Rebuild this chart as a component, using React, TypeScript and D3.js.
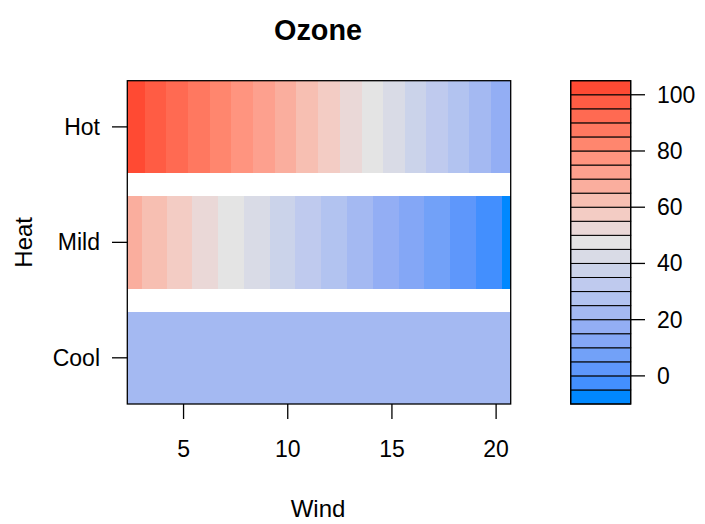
import React from "react";
import * as d3 from "d3";

// Heat categories (bottom to top) and fitted Ozone along Wind for each
const heatLevels = ["Cool", "Mild", "Hot"];
const windGrid = [2.3, 5, 10, 15, 20, 20.7];
const ozoneCool = [22, 22, 22, 22, 22, 22];
const ozoneMild = [68, 56.7, 36.5, 16.3, -3.9, -6.8];
const ozoneHot = [104, 91, 67, 43, 18.7, 15.3];

// contour levels and their fill colours (low to high)
const levels = [-10, -5, 0, 5, 10, 15, 20, 25, 30, 35, 40, 45, 50, 55, 60, 65, 70, 75, 80, 85, 90, 95, 100, 105];
const bandColors = [
  "#0088FF", "#438FFE", "#5E97FB", "#72A1F8", "#84A7F6", "#93AEF4",
  "#A4B9F2", "#B2C3F0", "#BFCAEE", "#CBD3EA", "#D9DBE6", "#E4E4E4",
  "#EAD8D7", "#F3CCC4", "#F7BFB2", "#FAAE9E", "#FDA08E", "#FF947F",
  "#FF866E", "#FF7860", "#FF6A52", "#FF5C44", "#FF4A33",
];
const xTicks = [5, 10, 15, 20];
const keyTicks = [0, 20, 40, 60, 80, 100];

const W = 705, H = 524;
const font = "'Liberation Sans', Arial, Helvetica, sans-serif";

const x = d3.scaleLinear().domain([2.3, 20.7]).range([127.3, 510.7]);
const y = d3.scaleLinear().domain([0.6, 3.4]).range([404, 80.7]);
const keyY = d3.scaleLinear().domain([-10, 105]).range([404, 80.7]);
const color = d3.scaleThreshold<number, string>().domain(levels.slice(1, -1)).range(bandColors);

function segments(values: number[]) {
  const pts = [...windGrid];
  for (let i = 0; i < windGrid.length - 1; i++) {
    const v0 = values[i], v1 = values[i + 1];
    levels.forEach((l) => {
      if ((l - v0) * (l - v1) < 0)
        pts.push(windGrid[i] + ((l - v0) / (v1 - v0)) * (windGrid[i + 1] - windGrid[i]));
    });
  }
  pts.sort((a, b) => a - b);
  const f = d3.scaleLinear().domain(windGrid).range(values);
  const out: { x0: number; x1: number; fill: string }[] = [];
  for (let i = 0; i < pts.length - 1; i++) {
    const fill = color(f((pts[i] + pts[i + 1]) / 2));
    const last = out[out.length - 1];
    if (last && last.fill === fill) last.x1 = pts[i + 1];
    else out.push({ x0: pts[i], x1: pts[i + 1], fill });
  }
  return out;
}

const rows = [ozoneCool, ozoneMild, ozoneHot];

export default function App() {
  return (
    <svg width={W} height={H} style={{ position: "absolute", left: 0, top: 0 }} fontFamily={font}>
      <rect width={W} height={H} fill="white" />
      <text x={318} y={40} textAnchor="middle" fontSize={28.8} fontWeight="bold">Ozone</text>

      {rows.map((vals, r) => (
        <g key={heatLevels[r]}>
          {segments(vals).map((s, i) => (
            <rect
              key={i}
              x={x(s.x0)}
              width={x(s.x1) - x(s.x0)}
              y={y(r + 1 + 0.4)}
              height={y(r + 1 - 0.4) - y(r + 1 + 0.4)}
              fill={s.fill}
              shapeRendering="crispEdges"
            />
          ))}
        </g>
      ))}
      <rect x={127.3} y={80.7} width={383.4} height={323.3} fill="none" stroke="#000" strokeWidth={1.3} />

      {xTicks.map((t) => (
        <g key={t}>
          <line x1={x(t)} x2={x(t)} y1={404} y2={419} stroke="#000" strokeWidth={1.3} />
          <text x={x(t)} y={457} textAnchor="middle" fontSize={23}>{t}</text>
        </g>
      ))}
      {heatLevels.map((h, i) => (
        <g key={h}>
          <line x1={112} x2={127.3} y1={y(i + 1)} y2={y(i + 1)} stroke="#000" strokeWidth={1.3} />
          <text x={100} y={y(i + 1)} dy="0.35em" textAnchor="end" fontSize={23}>{h}</text>
        </g>
      ))}
      <text x={318} y={517} textAnchor="middle" fontSize={24}>Wind</text>
      <text transform={`translate(32,${y(2)}) rotate(-90)`} textAnchor="middle" fontSize={24}>Heat</text>

      {bandColors.map((c, i) => (
        <rect
          key={i}
          x={570.7}
          width={60}
          y={keyY(levels[i + 1])}
          height={keyY(levels[i]) - keyY(levels[i + 1])}
          fill={c}
          stroke="#000"
          strokeWidth={1}
        />
      ))}
      <rect x={570.7} y={80.7} width={60} height={323.3} fill="none" stroke="#000" strokeWidth={1.3} />
      {keyTicks.map((t) => (
        <g key={t}>
          <line x1={630.7} x2={645} y1={keyY(t)} y2={keyY(t)} stroke="#000" strokeWidth={1.3} />
          <text x={657} y={keyY(t)} dy="0.35em" fontSize={23}>{t}</text>
        </g>
      ))}
    </svg>
  );
}
